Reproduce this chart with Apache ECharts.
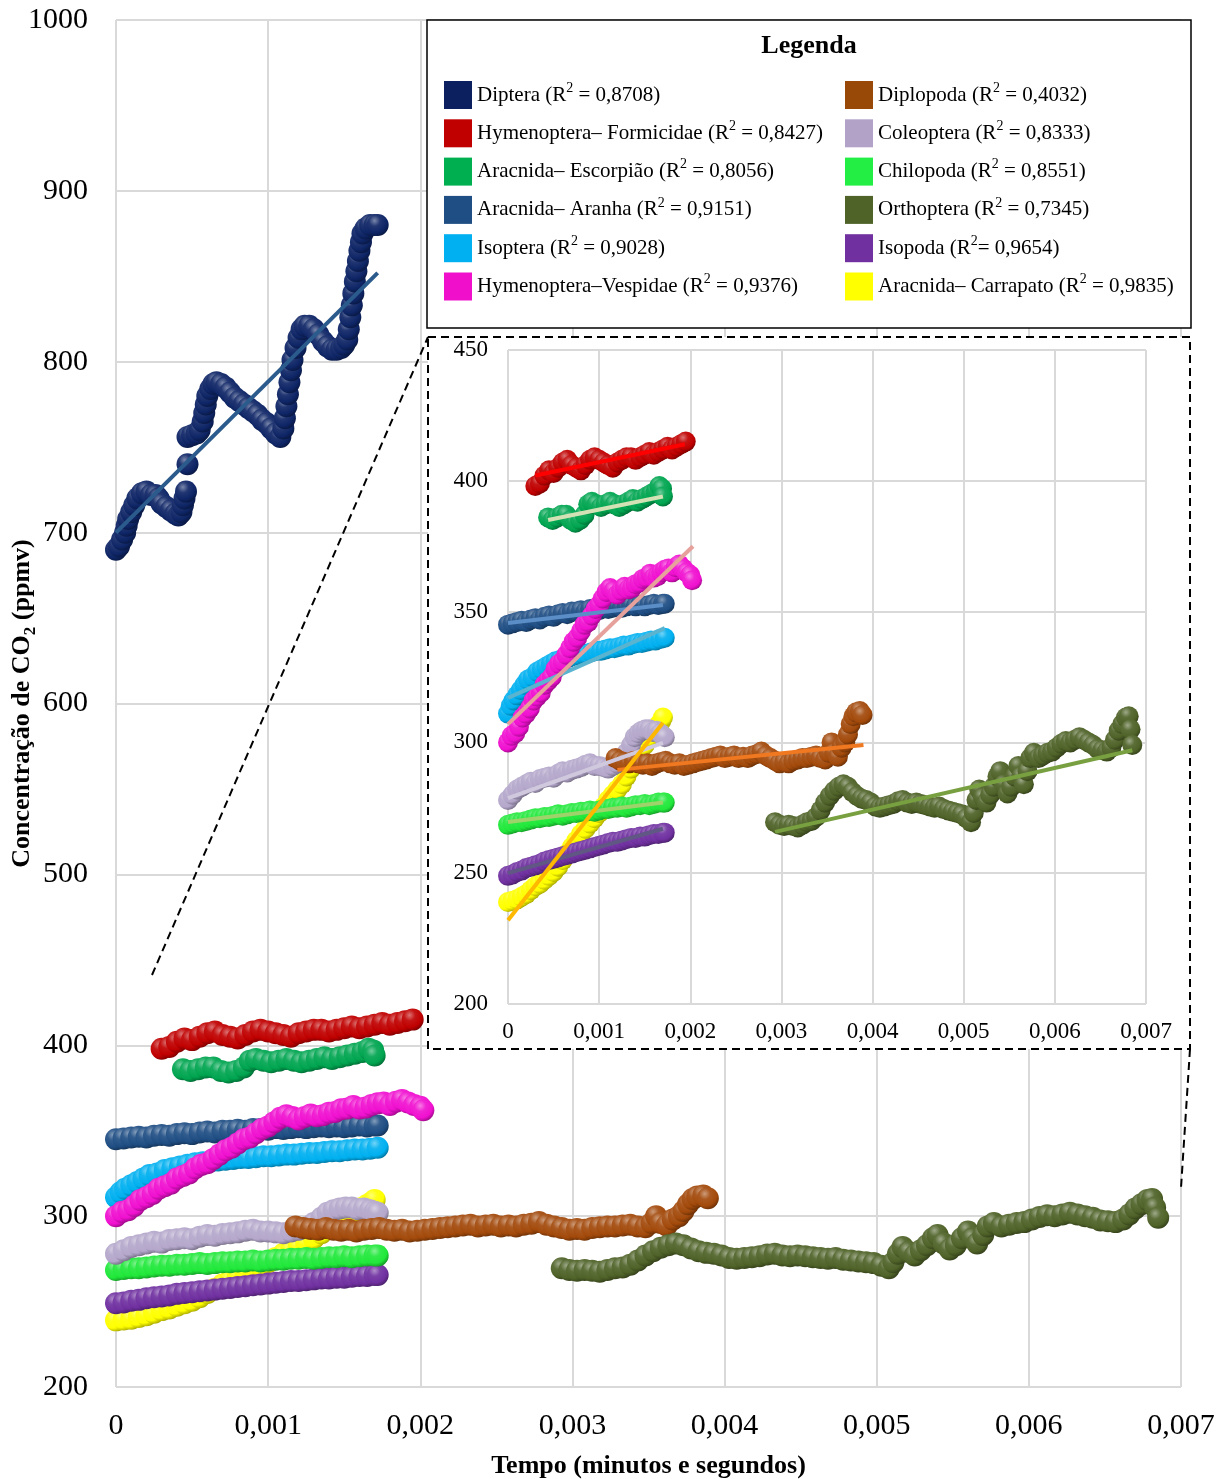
<!DOCTYPE html>
<html>
<head>
<meta charset="utf-8">
<script src="https://cdn.jsdelivr.net/npm/echarts/dist/echarts.min.js"></script>
<style>
html,body{margin:0;padding:0;background:#fff}
#chart{width:1226px;height:1479px}
</style>
</head>
<body>
<div id="chart"></div>
<script>
// ---- tick labels ----
const xTickLabels = ['0', '0,001', '0,002', '0,003', '0,004', '0,005', '0,006', '0,007'];

// ---- species names and fit quality ----
const speciesNames = [
  'Diptera', 'Hymenoptera– Formicidae', 'Aracnida– Escorpião', 'Aracnida– Aranha',
  'Isoptera', 'Hymenoptera–Vespidae', 'Diplopoda', 'Coleoptera',
  'Chilopoda', 'Orthoptera', 'Isopoda', 'Aracnida– Carrapato'
];
const r2Texts = [
  ' = 0,8708', ' = 0,8427', ' = 0,8056', ' = 0,9151',
  ' = 0,9028', ' = 0,9376', ' = 0,4032', ' = 0,8333',
  ' = 0,8551', ' = 0,7345', '= 0,9654', ' = 0,9835'
];

// ---- measured series: [tempo, CO2 ppmv] ----
const dipteraPts = [
  [0,690],[0.00002,692],[0.00004,696],[0.00006,700],[0.00007,704],[0.00008,708],[0.0001,712],[0.00012,716],
  [0.00014,720],[0.00017,723],[0.0002,724],[0.00023,722],[0.00026,722],[0.00028,720],[0.0003,717],[0.00033,715],
  [0.00036,713],[0.00039,711],[0.00041,710],[0.00043,712],[0.00044,716],[0.00045,720],[0.00046,724],[0.00047,740],
  [0.00047,756],[0.0005,757],[0.00053,758],[0.00055,760],[0.00057,765],[0.00058,770],[0.00059,775],[0.0006,780],
  [0.00062,784],[0.00064,787],[0.00066,788],[0.00069,787],[0.00072,785],[0.00075,782],[0.00078,779],[0.00081,777],
  [0.00084,775],[0.00087,773],[0.0009,771],[0.00093,769],[0.00096,766],[0.00099,764],[0.00102,761],[0.00105,758],
  [0.00108,756],[0.0011,761],[0.00111,767],[0.00112,774],[0.00113,781],[0.00114,788],[0.00115,795],[0.00116,801],
  [0.00118,808],[0.0012,814],[0.00122,819],[0.00124,821],[0.00127,821],[0.0013,819],[0.00133,816],[0.00136,812],
  [0.00139,809],[0.00142,807],[0.00145,807],[0.00148,808],[0.0015,810],[0.00152,813],[0.00153,819],[0.00154,826],
  [0.00155,833],[0.00156,840],[0.00157,847],[0.00158,853],[0.00159,859],[0.0016,865],[0.00161,870],[0.00162,875],
  [0.00164,878],[0.00167,880],[0.0017,880],[0.00172,880]
];
const formicidaePts = [
  [0.0003,398],[0.00035,399],[0.0004,402],[0.00045,404],[0.0005,403],[0.00055,405],[0.0006,407],[0.00065,408],
  [0.0007,406],[0.00075,405],[0.0008,404],[0.00085,406],[0.0009,408],[0.00095,409],[0.001,408],[0.00105,407],
  [0.0011,406],[0.00115,405],[0.0012,407],[0.00125,408],[0.0013,409],[0.00135,409],[0.0014,408],[0.00145,409],
  [0.0015,410],[0.00155,411],[0.0016,410],[0.00165,411],[0.0017,412],[0.00175,413],[0.0018,412],[0.00185,413],
  [0.0019,414],[0.00195,415]
];
const scorpionPts = [
  [0.00044,386],[0.00049,385],[0.00054,386],[0.00059,387],[0.00064,387],[0.00069,385],[0.00074,384],[0.00079,385],
  [0.00084,387],[0.00088,391],[0.00092,392],[0.00097,391],[0.00102,390],[0.00107,391],[0.00112,392],[0.00117,391],
  [0.00122,390],[0.00127,391],[0.00132,392],[0.00137,393],[0.00142,392],[0.00147,393],[0.00152,394],[0.00157,395],
  [0.00162,396],[0.00166,398],[0.00169,397],[0.0017,394]
];
const spiderPts = [
  [0,345],[0.00005,345.5],[0.0001,346],[0.00015,346.5],[0.0002,346],[0.00025,347],[0.0003,347.5],[0.00035,347],
  [0.0004,348],[0.00045,348.5],[0.0005,348],[0.00055,349],[0.0006,349.5],[0.00065,349],[0.0007,350],[0.00075,350],
  [0.0008,350.5],[0.00085,350],[0.0009,351],[0.00095,351],[0.001,350.5],[0.00105,351.5],[0.0011,351],[0.00115,351.5],
  [0.0012,352],[0.00125,351.5],[0.0013,352],[0.00135,352.5],[0.0014,352],[0.00145,352.5],[0.0015,352],[0.00155,352.5],
  [0.0016,353],[0.00165,352.5],[0.0017,353],[0.00172,353]
];
const isopteraPts = [
  [0,311],[0.00003,314],[0.00006,316],[0.0001,318],[0.00014,320],[0.00018,322],[0.00022,324],[0.00027,325],
  [0.00032,327],[0.00037,328],[0.00042,329],[0.00047,330],[0.00052,331],[0.00057,331.5],[0.00062,332],[0.00067,332.5],
  [0.00072,333],[0.00077,333.5],[0.00082,334],[0.00087,334],[0.00092,334.5],[0.00097,335],[0.00102,335],[0.00107,335.5],
  [0.00112,336],[0.00117,336],[0.00122,336.5],[0.00127,337],[0.00132,337],[0.00137,337.5],[0.00142,338],[0.00147,338],
  [0.00152,338.5],[0.00157,339],[0.00162,339],[0.00167,339.5],[0.00172,340]
];
const waspPts = [
  [0,300],[0.00004,302.5],[0.00008,303.5],[0.00012,306],[0.00016,309.5],[0.0002,311],[0.00024,313],[0.00028,316],
  [0.00032,317.5],[0.00036,319],[0.0004,322],[0.00044,323.5],[0.00048,325],[0.00052,328],[0.00056,330],[0.0006,331],
  [0.00064,333.5],[0.00068,336],[0.00072,338.5],[0.00076,340],[0.0008,342.5],[0.00084,345],[0.00088,346],[0.00092,348.5],
  [0.00096,351],[0.001,352.5],[0.00104,355],[0.00108,357.5],[0.00112,359],[0.00116,358],[0.0012,356.5],[0.00124,358],
  [0.00128,359.5],[0.00132,358.5],[0.00136,359],[0.0014,360.5],[0.00144,361],[0.00148,362.5],[0.00152,363],[0.00156,364.5],
  [0.0016,363],[0.00164,363.5],[0.00168,365],[0.00172,366],[0.00176,366.5],[0.0018,365],[0.00184,367],[0.00188,368],
  [0.00192,366.5],[0.00196,365],[0.002,364],[0.00202,362]
];
const diplopodaPts = [
  [0.00118,294],[0.00123,293],[0.00128,292.5],[0.00133,292],[0.00138,293],[0.00143,292],[0.00148,291.5],[0.00153,292],
  [0.00158,291],[0.00163,292],[0.00168,292.5],[0.00173,293],[0.00178,292],[0.00183,291.5],[0.00188,292],[0.00193,291],
  [0.00198,291.5],[0.00203,292],[0.00208,292.5],[0.00213,293],[0.00218,293.5],[0.00223,294],[0.00228,294.5],[0.00233,295],
  [0.00238,294],[0.00243,294.5],[0.00248,295],[0.00253,294],[0.00258,294.5],[0.00263,294],[0.00268,295],[0.00273,295.5],
  [0.00278,296.5],[0.00283,295],[0.00288,294],[0.00293,293],[0.00298,292],[0.00303,292.5],[0.00308,292],[0.00313,293],
  [0.00318,293.5],[0.00323,294],[0.00328,294],[0.00333,294.5],[0.00338,295],[0.00343,294],[0.00348,293.5],[0.00352,296],
  [0.00355,300],[0.00358,296],[0.00362,294.5],[0.00366,298],[0.0037,300],[0.00373,303],[0.00376,307],[0.00379,310],
  [0.00382,311.5],[0.00386,312],[0.00389,310.5]
];
const coleopteraPts = [
  [0,278],[0.00005,280],[0.0001,282],[0.00015,283],[0.0002,284],[0.00025,285],[0.0003,284.5],[0.00035,286],
  [0.0004,286.5],[0.00045,287],[0.0005,286.5],[0.00055,288],[0.0006,289],[0.00065,288.5],[0.0007,289.5],[0.00075,290],
  [0.0008,290.5],[0.00085,291.5],[0.0009,292],[0.00095,291],[0.001,291],[0.00105,290.5],[0.0011,290],[0.00115,291],
  [0.0012,292],[0.00125,293.5],[0.0013,296],[0.00135,299],[0.00139,302],[0.00143,303.5],[0.00147,304.5],[0.00151,305],
  [0.00155,305],[0.00159,304],[0.00163,304.5],[0.00167,303.5],[0.0017,302.5],[0.00172,302]
];
const chilopodaPts = [
  [0,268.5],[0.00005,269],[0.0001,269.5],[0.00015,269.5],[0.0002,270],[0.00025,270.5],[0.0003,271],[0.00035,271],
  [0.0004,271.5],[0.00045,271.5],[0.0005,272],[0.00055,272.5],[0.0006,272],[0.00065,272.5],[0.0007,273],[0.00075,273],
  [0.0008,273.5],[0.00085,273.5],[0.0009,274],[0.00095,273.5],[0.001,274],[0.00105,274.5],[0.0011,274.5],[0.00115,275],
  [0.0012,275],[0.00125,275.5],[0.0013,275],[0.00135,275.5],[0.0014,276],[0.00145,276],[0.0015,276.5],[0.00155,276],
  [0.0016,276.5],[0.00165,277],[0.0017,277],[0.00172,277]
];
const orthopteraPts = [
  [0.00293,269.5],[0.00298,268.5],[0.00303,268],[0.00308,268.5],[0.00313,268],[0.00318,267.5],[0.00323,268.5],[0.00328,269.5],
  [0.00333,270],[0.00338,271.5],[0.00343,274],[0.00348,277],[0.00353,279.5],[0.00358,281.5],[0.00363,283],[0.00368,284],
  [0.00373,283],[0.00378,281],[0.00383,279.5],[0.00388,278.5],[0.00393,278],[0.00398,277],[0.00403,275.5],[0.00408,275],
  [0.00413,275.5],[0.00418,276],[0.00423,276.5],[0.00428,277.5],[0.00433,278],[0.00438,277],[0.00443,276.5],[0.00448,277],
  [0.00453,276.5],[0.00458,276],[0.00463,275.5],[0.00468,275],[0.00473,275.5],[0.00478,274.5],[0.00483,274],[0.00488,273.5],
  [0.00493,273],[0.00498,272.5],[0.00503,271],[0.00508,269.5],[0.00511,273],[0.00514,278],[0.00517,282],[0.00521,279],
  [0.00525,277],[0.00529,280],[0.00533,283],[0.00537,287],[0.0054,289],[0.00544,284],[0.00548,280.5],[0.00552,283],
  [0.00556,287],[0.0056,291],[0.00563,287],[0.00566,284],[0.0057,289],[0.00573,294],[0.00577,296],[0.00582,294],
  [0.00587,295],[0.00592,296],[0.00597,296.5],[0.00602,298],[0.00607,299.5],[0.00612,300.5],[0.00617,300],[0.00622,301],
  [0.00627,302],[0.00632,301],[0.00637,300],[0.00642,299],[0.00647,297.5],[0.00652,297],[0.00657,296.5],[0.00662,298],
  [0.00666,301],[0.0067,304.5],[0.00674,307],[0.00678,309.5],[0.00681,310],[0.00683,305],[0.00685,299]
];
const isopodaPts = [
  [0,249],[0.00005,249.5],[0.0001,250.5],[0.00015,251],[0.0002,252],[0.00025,252.5],[0.0003,253],[0.00035,253.5],
  [0.0004,254.5],[0.00045,255],[0.0005,255.5],[0.00055,256],[0.0006,256.5],[0.00065,257],[0.0007,257.5],[0.00075,258],
  [0.0008,258.5],[0.00085,259],[0.0009,259.5],[0.00095,260],[0.001,260.5],[0.00105,261],[0.0011,261.5],[0.00115,262],
  [0.0012,262],[0.00125,262.5],[0.0013,263],[0.00135,263.5],[0.0014,263.5],[0.00145,264],[0.0015,264],[0.00155,264.5],
  [0.0016,265],[0.00165,265],[0.0017,265.5],[0.00172,265.5]
];
const tickPts = [
  [0,239],[0.00005,239.5],[0.0001,240],[0.00015,241],[0.0002,242],[0.00025,243.5],[0.0003,245],[0.00035,246],
  [0.0004,247.5],[0.00045,249],[0.0005,250.5],[0.00055,252.5],[0.0006,255],[0.00065,257.5],[0.0007,260],[0.00075,262.5],
  [0.0008,265],[0.00085,267],[0.0009,269],[0.00095,271],[0.001,273],[0.00105,275.5],[0.0011,278],[0.00115,280],
  [0.0012,282],[0.00125,284],[0.0013,287],[0.00135,290],[0.0014,293],[0.00145,296],[0.0015,299],[0.00155,302],
  [0.0016,304.5],[0.00165,306.5],[0.00168,308],[0.0017,309.5]
];
const pointSets = [
  dipteraPts, formicidaePts, scorpionPts, spiderPts, isopteraPts, waspPts,
  diplopodaPts, coleopteraPts, chilopodaPts, orthopteraPts, isopodaPts, tickPts
];

// ---- linear fits (end points) ----
const trendSets = [
  [[0, 700], [0.00172, 852]],
  [[0.0003, 402], [0.00194, 414]],
  [[0.00044, 385], [0.0017, 394]],
  [[0, 345.6], [0.0017, 352.5]],
  [[0, 317], [0.00172, 343.7]],
  [[0, 307], [0.00203, 375]],
  [[0.0012, 289.5], [0.0039, 299]],
  [[0, 278.7], [0.0017, 299.8]],
  [[0, 269.6], [0.0017, 277]],
  [[0.00293, 265.8], [0.00685, 297]],
  [[0, 250], [0.0017, 267]],
  [[0, 232], [0.0017, 307.5]]
];

// ---- styling ----
const FONT = '"Liberation Serif", "Times New Roman", serif';
const pointColors = [
  '#0e2566', '#c00000', '#00a550', '#1f4e84', '#00b0f0', '#f010d0',
  '#a34a0b', '#b4a7cb', '#20e83a', '#4f6228', '#7030a0', '#ffff00'
];
const swatchColors = [
  '#0c2060', '#c00000', '#00b050', '#1f4e84', '#00b0f0', '#f010cc',
  '#984807', '#b3a2c7', '#22ee44', '#4f6228', '#7030a0', '#ffff00'
];
const trendColors = [
  '#2b5b8c', '#ff0000', '#d3e2b4', '#5b8ec6', '#5ab4cf', '#e6a19c',
  '#f07820', '#d0c9de', '#9dd36a', '#78a040', '#615784', '#ffb800'
];
// bottom to top stacking of the point clouds
const drawOrder = [11, 10, 8, 7, 6, 9, 3, 4, 5, 2, 1, 0];

function shade(hex, t) {
  const n = parseInt(hex.slice(1), 16);
  let r = (n >> 16) & 255, g = (n >> 8) & 255, b = n & 255;
  if (t > 0) { r += (255 - r) * t; g += (255 - g) * t; b += (255 - b) * t; }
  else { r *= 1 + t; g *= 1 + t; b *= 1 + t; }
  return 'rgb(' + Math.round(r) + ',' + Math.round(g) + ',' + Math.round(b) + ')';
}
// shaded ball: light spot upper left, shadow toward the lower right rim
function sphere(hex) {
  return {
    type: 'radial', x: 0.36, y: 0.3, r: 0.85,
    colorStops: [
      { offset: 0, color: shade(hex, 0.45) },
      { offset: 0.3, color: shade(hex, 0.08) },
      { offset: 0.65, color: hex },
      { offset: 1, color: shade(hex, -0.55) }
    ]
  };
}

const series = [];
drawOrder.forEach(function (i) {
  series.push({
    type: 'scatter', name: speciesNames[i], xAxisIndex: 0, yAxisIndex: 0,
    data: pointSets[i], symbolSize: 22, z: 2, silent: true,
    itemStyle: { color: sphere(pointColors[i]), opacity: 1 }
  });
  if (i !== 0) {
    series.push({
      type: 'scatter', name: speciesNames[i], xAxisIndex: 1, yAxisIndex: 1,
      data: pointSets[i], symbolSize: 20, z: 4, silent: true,
      itemStyle: { color: sphere(pointColors[i]), opacity: 1 }
    });
  }
});
trendSets.forEach(function (seg, i) {
  const main = i === 0;
  series.push({
    type: 'line', name: speciesNames[i] + ' ajuste',
    xAxisIndex: main ? 0 : 1, yAxisIndex: main ? 0 : 1,
    data: seg, showSymbol: false, symbol: 'none', silent: true, z: main ? 3 : 5,
    lineStyle: { color: trendColors[i], width: 4, opacity: 1 }
  });
});

const gridLine = { show: true, lineStyle: { color: '#d9d9d9', width: 2 } };
const labelColor = '#000';

function legendColumn(start, left) {
  return {
    orient: 'vertical', left: left, top: 81, padding: 0,
    itemWidth: 28, itemHeight: 28, itemGap: 10.3, icon: 'rect',
    selectedMode: false, z: 6,
    data: speciesNames.slice(start, start + 6).map(function (n, k) {
      return { name: n, itemStyle: { color: swatchColors[start + k], opacity: 1 } };
    }),
    formatter: function (name) {
      const idx = speciesNames.indexOf(name);
      return name + ' (R{sup|2}' + r2Texts[idx] + ')';
    },
    textStyle: {
      fontFamily: FONT, fontSize: 21, color: '#000', lineHeight: 28,
      rich: { sup: { fontFamily: FONT, fontSize: 14, color: '#000', verticalAlign: 'top', lineHeight: 20 } }
    }
  };
}

const option = {
  animation: false,
  backgroundColor: '#fff',
  grid: [
    { left: 116, top: 20, right: 45, bottom: 92, outerBoundsMode: 'none', containLabel: false },
    { left: 508, top: 350, right: 80, bottom: 475, outerBoundsMode: 'none', containLabel: false }
  ],
  xAxis: [
    {
      type: 'value', gridIndex: 0, min: 0, max: 0.007, interval: 0.001, z: 0,
      axisLine: { show: false }, axisTick: { show: false }, splitLine: gridLine,
      axisLabel: {
        fontFamily: FONT, fontSize: 30, color: labelColor, margin: 24,
        formatter: function (v) { return xTickLabels[Math.round(v / 0.001)]; }
      },
      name: 'Tempo (minutos e segundos)', nameLocation: 'middle', nameGap: 66, nameMoveOverlap: false,
      nameTextStyle: { fontFamily: FONT, fontSize: 26, fontWeight: 'bold', color: '#000' }
    },
    {
      type: 'value', gridIndex: 1, min: 0, max: 0.007, interval: 0.001, z: 2,
      axisLine: { show: false }, axisTick: { show: false }, splitLine: gridLine,
      axisLabel: {
        fontFamily: FONT, fontSize: 23, color: labelColor, margin: 16,
        formatter: function (v) { return xTickLabels[Math.round(v / 0.001)]; }
      }
    }
  ],
  yAxis: [
    {
      type: 'value', gridIndex: 0, min: 200, max: 1000, interval: 100, z: 0,
      axisLine: { show: false }, axisTick: { show: false }, splitLine: gridLine,
      axisLabel: {
        fontFamily: FONT, fontSize: 30, color: labelColor, margin: 28,
        formatter: function (v) { return String(v); }
      },
      name: 'Concentração de CO{sub|2} (ppmv)', nameLocation: 'middle', nameGap: 77, nameMoveOverlap: false,
      nameTextStyle: {
        fontFamily: FONT, fontSize: 26, fontWeight: 'bold', color: '#000', lineHeight: 34,
        rich: { sub: { fontFamily: FONT, fontSize: 17, fontWeight: 'bold', color: '#000', verticalAlign: 'bottom', lineHeight: 18 } }
      }
    },
    {
      type: 'value', gridIndex: 1, min: 200, max: 450, interval: 50, z: 2,
      axisLine: { show: false }, axisTick: { show: false }, splitLine: gridLine,
      axisLabel: {
        fontFamily: FONT, fontSize: 23, color: labelColor, margin: 20,
        formatter: function (v) { return String(v); }
      }
    }
  ],
  legend: [legendColumn(0, 444), legendColumn(6, 845)],
  graphic: [
    {
      type: 'rect', z: 1, silent: true,
      shape: { x: 428, y: 337, width: 762, height: 712 },
      style: { fill: '#fff', stroke: '#000', lineWidth: 2, lineDash: [8, 5] }
    },
    {
      type: 'line', z: 1, silent: true,
      shape: { x1: 152, y1: 975, x2: 428, y2: 337 },
      style: { stroke: '#000', lineWidth: 2, lineDash: [8, 5] }
    },
    {
      type: 'line', z: 1, silent: true,
      shape: { x1: 1190, y1: 1049, x2: 1181, y2: 1188 },
      style: { stroke: '#000', lineWidth: 2, lineDash: [8, 5] }
    },
    {
      type: 'rect', z: 5, silent: true,
      shape: { x: 427, y: 20, width: 764, height: 308 },
      style: { fill: '#fff', stroke: '#000', lineWidth: 1.5 }
    },
    {
      type: 'text', z: 6, silent: true,
      style: {
        text: 'Legenda', x: 809, y: 46, align: 'center', verticalAlign: 'middle',
        textAlign: 'center', textVerticalAlign: 'middle',
        fontFamily: FONT, fontSize: 26, fontWeight: 'bold', fill: '#000'
      }
    }
  ],
  series: series
};

const chart = echarts.init(document.getElementById('chart'), null, { renderer: 'canvas' });
chart.setOption(option);
</script>
</body>
</html>
